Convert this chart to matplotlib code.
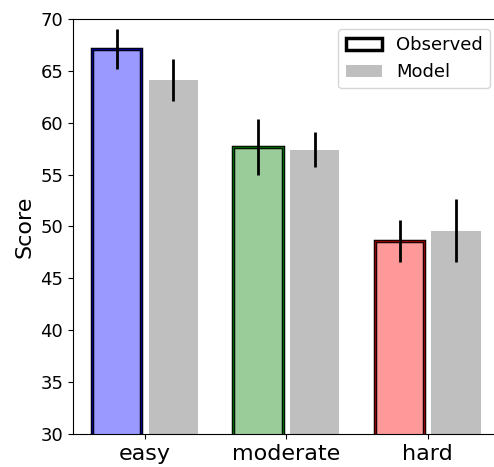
import matplotlib
matplotlib.use("Agg")
import matplotlib.pyplot as plt
import numpy as np
from matplotlib.patches import Patch

# data
categories = ["easy", "moderate", "hard"]
observed = [67.1, 57.7, 48.6]
observed_err = [1.9, 2.7, 2.0]
model = [64.1, 57.4, 49.6]
model_err = [2.0, 1.7, 3.0]

face_colors = ["#9999ff", "#99cc99", "#ff9999"]
edge_colors = ["navy", "darkgreen", "darkred"]

fig = plt.figure(figsize=(4.94, 4.67), dpi=100)
# the reference is cropped at the right, no right spine in view
ax = fig.add_axes([0.1478, 0.0707, 0.87, 0.8887])
ax.spines["right"].set_visible(False)

x = np.arange(len(categories))
w = 0.35
ax.bar(x - 0.2, observed, w, color=face_colors, edgecolor="black", linewidth=2.5)
ax.bar(x - 0.2, observed, w, color="none", edgecolor=edge_colors, linewidth=1.0)
ax.errorbar(x - 0.2, observed, yerr=observed_err, fmt="none", ecolor="black", elinewidth=2)
ax.bar(x + 0.2, model, w, color="#bfbfbf")
ax.errorbar(x + 0.2, model, yerr=model_err, fmt="none", ecolor="black", elinewidth=2)

ax.set_ylim(30, 70)
ax.set_xlim(-0.509, 2.53)
ax.set_xticks(x)
ax.set_xticklabels(categories, fontsize=16)
ax.tick_params(axis="y", labelsize=13)
ax.set_ylabel("Score", fontsize=16)

handles = [Patch(facecolor="white", edgecolor="black", linewidth=2.5, label="Observed"),
           Patch(facecolor="#bfbfbf", label="Model")]
ax.legend(handles=handles, loc="upper right", bbox_to_anchor=(0.992, 0.938),
          bbox_transform=fig.transFigure, borderaxespad=0, fontsize=13)

fig.savefig("out.png", dpi=100)
